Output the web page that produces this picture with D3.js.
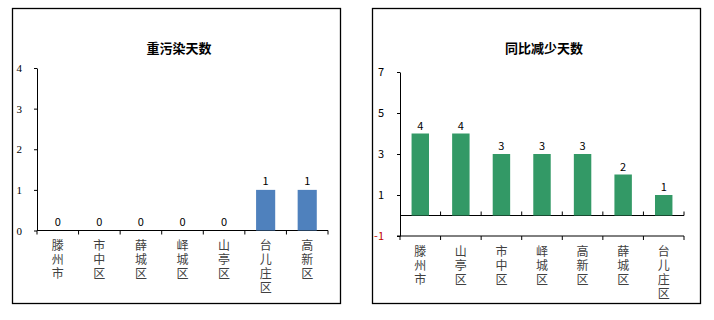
<!DOCTYPE html>
<html>
<head>
<meta charset="utf-8">
<script src="https://cdn.jsdelivr.net/npm/d3@7"></script>
<style>
  body { margin: 0; background: #fff; }
  text { font-family: "Noto Sans CJK SC", "DejaVu Sans", sans-serif; }
</style>
</head>
<body>
<script>
// data
var polCats = ["滕州市", "市中区", "薛城区", "峄城区", "山亭区", "台儿庄区", "高新区"];
var polVals = [0, 0, 0, 0, 0, 1, 1];
var polTicks = [0, 1, 2, 3, 4];

var redCats = ["滕州市", "山亭区", "市中区", "峄城区", "高新区", "薛城区", "台儿庄区"];
var redVals = [4, 4, 3, 3, 3, 2, 1];
var redTicks = [-1, 1, 3, 5, 7];

var W = 714, H = 320;
var svg = d3.select("body").append("svg")
  .attr("width", W).attr("height", H);

///////////////////////////
// helper: vertical chinese labels (one text each, vertical writing mode)
function vLabels(g, cats, x, y0) {
  g.selectAll(".cat").data(cats).enter().append("text")
    .attr("class", "cat")
    .attr("x", function(c) { return x(c) + x.bandwidth() / 2; })
    .attr("y", y0 - 6)
    .style("writing-mode", "vertical-rl")
    .style("glyph-orientation-vertical", "0")
    .style("letter-spacing", "2.3px")
    .attr("font-size", 12)
    .attr("fill", "#404040")
    .text(function(c) { return c; });
}

///////////////////////////
// LEFT CHART
var g1 = svg.append("g");
g1.append("rect").attr("x", 12.5).attr("y", 8.5).attr("width", 328).attr("height", 295)
  .attr("fill", "none").attr("stroke", "#000").attr("stroke-width", 1.3);
g1.append("text").attr("x", 179).attr("y", 47).attr("text-anchor", "middle")
  .attr("dominant-baseline", "central").attr("font-size", 13).attr("font-weight", "bold")
  .text("重污染天数");

var x1 = d3.scaleBand().domain(polCats).range([37, 328]).paddingInner(0).paddingOuter(0);
var y1 = d3.scaleLinear().domain([0, 4]).range([230.5, 68]);

var ya1 = g1.append("g").attr("transform", "translate(37,0)")
  .call(d3.axisLeft(y1).tickValues(polTicks).tickFormat(d3.format("d"))
    .tickSize(3).tickPadding(12).tickSizeOuter(0));
ya1.select(".domain").attr("stroke", "#000");
ya1.selectAll("text").attr("font-size", 11).attr("fill", "#000")
  .style("font-family", "'Liberation Serif', serif");

// x axis line + ticks at band edges
g1.append("line").attr("x1", 37).attr("x2", 328).attr("y1", y1(0)).attr("y2", y1(0))
  .attr("stroke", "#000");
var edges1 = polCats.map(function(c) { return x1(c); }).concat([x1.range()[1]]);
g1.selectAll(".xt").data(edges1).enter().append("line")
  .attr("x1", function(d) { return d; }).attr("x2", function(d) { return d; })
  .attr("y1", y1(0)).attr("y2", y1(0) + 4).attr("stroke", "#000");

var bw1 = x1.bandwidth() * 0.46;
g1.selectAll(".bar").data(polVals).enter().append("rect")
  .attr("x", function(d, i) { return x1(polCats[i]) + (x1.bandwidth() - bw1) / 2; })
  .attr("y", function(d) { return y1(d); })
  .attr("width", bw1)
  .attr("height", function(d) { return y1(0) - y1(d); })
  .attr("fill", "#4F81BD");
g1.selectAll(".val").data(polVals).enter().append("text")
  .attr("x", function(d, i) { return x1(polCats[i]) + x1.bandwidth() / 2; })
  .attr("y", function(d) { return y1(d) - 10; })
  .attr("text-anchor", "middle").attr("dominant-baseline", "central")
  .attr("font-size", 11).attr("fill", "#000")
  .text(function(d) { return d; });

vLabels(g1, polCats, x1, 245);

///////////////////////////
// RIGHT CHART
var g2 = svg.append("g");
g2.append("rect").attr("x", 372.5).attr("y", 8.5).attr("width", 328).attr("height", 295)
  .attr("fill", "none").attr("stroke", "#000").attr("stroke-width", 1.3);
g2.append("text").attr("x", 544).attr("y", 47).attr("text-anchor", "middle")
  .attr("dominant-baseline", "central").attr("font-size", 13).attr("font-weight", "bold")
  .text("同比减少天数");

var x2 = d3.scaleBand().domain(redCats).range([400, 684]).paddingInner(0).paddingOuter(0);
var y2 = d3.scaleLinear().domain([-1, 7]).range([236, 72]);

var ya2 = g2.append("g").attr("transform", "translate(400,0)")
  .call(d3.axisLeft(y2).tickValues(redTicks).tickFormat(function(d) { return d < 0 ? "-" + (-d) : d; })
    .tickSize(3).tickPadding(13).tickSizeOuter(0));
ya2.select(".domain").attr("stroke", "#000");
ya2.selectAll("text").attr("font-size", 11)
  .style("fill", function(d) { return d < 0 ? "#C00000" : "#000"; });

// zero line with inner ticks
g2.append("line").attr("x1", 400).attr("x2", 684).attr("y1", y2(0)).attr("y2", y2(0))
  .attr("stroke", "#000");
var edges2 = redCats.map(function(c) { return x2(c); }).concat([x2.range()[1]]);
g2.selectAll(".zt").data(edges2.slice(1)).enter().append("line")
  .attr("x1", function(d) { return d; }).attr("x2", function(d) { return d; })
  .attr("y1", y2(0)).attr("y2", y2(0) - 4).attr("stroke", "#000");
// bottom axis at -1
g2.append("line").attr("x1", 397).attr("x2", 684).attr("y1", y2(-1)).attr("y2", y2(-1))
  .attr("stroke", "#000");
g2.selectAll(".bt").data(edges2).enter().append("line")
  .attr("x1", function(d) { return d; }).attr("x2", function(d) { return d; })
  .attr("y1", y2(-1)).attr("y2", y2(-1) + 4).attr("stroke", "#000");

var bw2 = x2.bandwidth() * 0.43;
g2.selectAll(".bar").data(redVals).enter().append("rect")
  .attr("x", function(d, i) { return x2(redCats[i]) + (x2.bandwidth() - bw2) / 2; })
  .attr("y", function(d) { return y2(d); })
  .attr("width", bw2)
  .attr("height", function(d) { return y2(0) - y2(d); })
  .attr("fill", "#339966");
g2.selectAll(".val").data(redVals).enter().append("text")
  .attr("x", function(d, i) { return x2(redCats[i]) + x2.bandwidth() / 2; })
  .attr("y", function(d) { return y2(d) - 9; })
  .attr("text-anchor", "middle").attr("dominant-baseline", "central")
  .attr("font-size", 11).attr("fill", "#000")
  .text(function(d) { return d; });

vLabels(g2, redCats, x2, 251);
</script>
</body>
</html>
